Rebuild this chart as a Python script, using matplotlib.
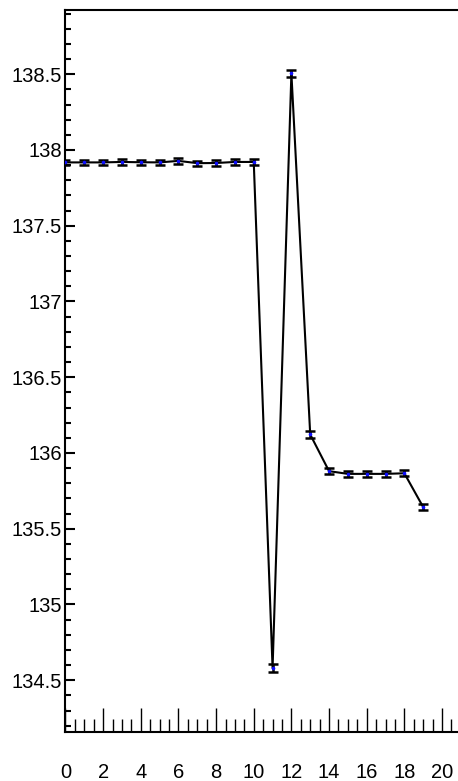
import matplotlib
matplotlib.use("Agg")
import matplotlib.pyplot as plt
from matplotlib.ticker import MultipleLocator, FuncFormatter

x = list(range(20))
y = [137.918, 137.918, 137.918, 137.921, 137.919, 137.918, 137.928, 137.913,
     137.914, 137.921, 137.921, 134.58, 138.505, 136.122, 135.88, 135.862,
     135.862, 135.862, 135.866, 135.643]
err = [0.018, 0.017, 0.017, 0.018, 0.017, 0.018, 0.018, 0.017, 0.017, 0.017,
       0.018, 0.028, 0.025, 0.02, 0.019, 0.02, 0.02, 0.02, 0.02, 0.02]

plt.rcParams['font.family'] = ['Liberation Sans', 'DejaVu Sans']

fig = plt.figure(figsize=(4.58, 7.81), dpi=100)
ax = fig.add_axes([0.1430, 0.0627, 1 - 0.1430, 0.9872 - 0.0627])

ax.errorbar(x, y, yerr=err, color='black', lw=1.5, elinewidth=1.8,
            capsize=3.3, capthick=1.8, marker='o', markersize=1.6,
            markerfacecolor='#1010ff', markeredgecolor='#1010ff', zorder=3)

ax.set_xlim(0, 20.85)
ax.set_ylim(134.158, 138.924)

ax.spines['right'].set_visible(False)
for s in ['left', 'top', 'bottom']:
    ax.spines[s].set_linewidth(1.5)

ax.xaxis.set_major_locator(MultipleLocator(2))
ax.xaxis.set_minor_locator(MultipleLocator(0.5))
ax.yaxis.set_major_locator(MultipleLocator(0.5))
ax.yaxis.set_minor_locator(MultipleLocator(0.1))
ax.yaxis.set_major_formatter(FuncFormatter(lambda v, p: ('%g' % round(v, 1))))

ax.tick_params(axis='x', which='major', direction='in', length=17, width=1.0,
               pad=22.5, labelsize=14.5, top=False)
ax.tick_params(axis='x', which='minor', direction='in', length=9.4, width=1.0, top=False)
ax.tick_params(axis='y', which='major', direction='in', length=7.2, width=1.5,
               pad=2.4, labelsize=14.5, right=False)
ax.tick_params(axis='y', which='minor', direction='in', length=4.3, width=1.5, right=False)

fig.savefig('out.png', dpi=100)
